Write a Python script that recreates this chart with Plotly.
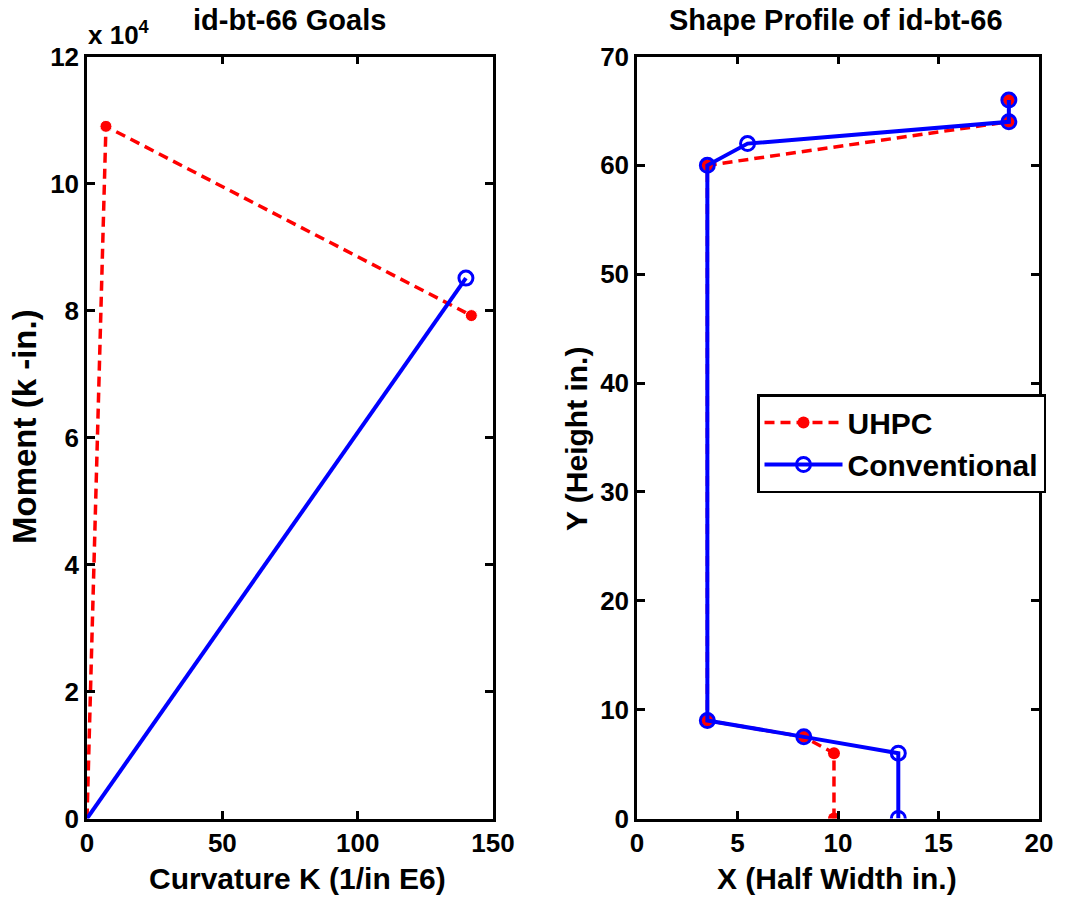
import plotly.graph_objects as go

# Moment-curvature goals (curvature in 1/in E6, moment in k-in.)
uhpc_curv = [0, 7, 142]
uhpc_moment = [0, 109000, 79200]
conv_curv = [0, 140]
conv_moment = [0, 85100]

# Half-width shape profiles (x = half width in., y = height in.)
uhpc_x = [9.8, 9.8, 8.3, 3.5, 3.5, 18.5, 18.5]
uhpc_y = [0, 6, 7.5, 9, 60, 64, 66]
conv_x = [13, 13, 8.3, 3.5, 3.5, 5.5, 18.5, 18.5]
conv_y = [0, 6, 7.5, 9, 60, 62, 64, 66]

moment_ticks = [0, 20000, 40000, 60000, 80000, 100000, 120000]
moment_ticktext = ["0", "2", "4", "6", "8", "10", "12"]

RED = "#ff0000"
BLUE = "#0000ff"
FONT = "Liberation Sans"

fig = go.Figure()

red_line = dict(color=RED, width=3.5, dash="10px,6px")
blue_line = dict(color=BLUE, width=4)
red_marker = dict(symbol="circle", color=RED, size=12, opacity=1)
blue_marker = dict(symbol="circle-open", color=BLUE, size=14, opacity=1,
                   line=dict(width=3, color=BLUE))

fig.add_trace(go.Scatter(x=uhpc_curv, y=uhpc_moment, mode="lines+markers",
                         line=red_line,
                         marker=dict(red_marker, size=[0, 12, 12]),
                         xaxis="x", yaxis="y", showlegend=False))
fig.add_trace(go.Scatter(x=conv_curv, y=conv_moment, mode="lines+markers",
                         line=blue_line,
                         marker=dict(blue_marker, size=[0, 14]),
                         xaxis="x", yaxis="y", showlegend=False))

fig.add_trace(go.Scatter(x=uhpc_x, y=uhpc_y, mode="lines+markers", name="UHPC",
                         line=red_line, marker=red_marker,
                         xaxis="x2", yaxis="y2"))
fig.add_trace(go.Scatter(x=conv_x, y=conv_y, mode="lines+markers", name="Conventional",
                         line=blue_line, marker=blue_marker,
                         xaxis="x2", yaxis="y2"))

axis_style = dict(
    showline=True, linecolor="black", linewidth=2.5, mirror="ticks",
    ticks="inside", ticklen=8, tickwidth=2.5, tickcolor="black",
    showgrid=False, zeroline=False,
    tickfont=dict(family=FONT, size=26, color="black", weight="bold"),
)

ydom = [1 - 818.5 / 903, 1 - 56.5 / 903]

fig.update_layout(
    width=1082, height=903,
    margin=dict(l=0, r=0, t=0, b=0, autoexpand=False),
    paper_bgcolor="white", plot_bgcolor="white",
    font=dict(family=FONT, color="black"),
    xaxis=dict(axis_style, domain=[87 / 1082, 493 / 1082], range=[0, 150],
               tickvals=[0, 50, 100, 150], anchor="y"),
    yaxis=dict(axis_style, domain=ydom, range=[0, 120000],
               tickvals=moment_ticks, ticktext=moment_ticktext, anchor="x"),
    xaxis2=dict(axis_style, domain=[637 / 1082, 1039 / 1082], range=[0, 20],
                tickvals=[0, 5, 10, 15, 20], anchor="y2"),
    yaxis2=dict(axis_style, domain=ydom, range=[0, 70],
                tickvals=[0, 10, 20, 30, 40, 50, 60, 70], anchor="x2"),
    legend=dict(x=757 / 1082, y=1 - 394 / 903, xanchor="left", yanchor="top",
                bordercolor="black", borderwidth=2.5, bgcolor="white",
                itemwidth=78, tracegroupgap=0,
                font=dict(family=FONT, size=30, color="black", weight="bold")),
    showlegend=True,
)

def bold(size):
    return dict(family=FONT, size=size, color="black", weight="bold")

notes = [
    dict(text="id-bt-66 Goals", x=289 / 1082, y=1 - 20 / 903, font=bold(29)),
    dict(text="Shape Profile of id-bt-66", x=836 / 1082, y=1 - 20 / 903, font=bold(29)),
    dict(text="Curvature K (1/in E6)", x=297 / 1082, y=1 - 878 / 903, font=bold(30)),
    dict(text="X (Half Width in.)", x=837 / 1082, y=1 - 878 / 903, font=bold(30)),
    dict(text="Moment (k -in.)", x=25 / 1082, y=1 - 427 / 903, textangle=-90,
         font=bold(33)),
    dict(text="Y (Height in.)", x=576 / 1082, y=1 - 439 / 903, textangle=-90,
         font=bold(30)),
]
for n in notes:
    fig.add_annotation(xref="paper", yref="paper", showarrow=False,
                       xanchor="center", yanchor="middle", **n)

# Exponent label for the moment axis
fig.add_annotation(xref="paper", yref="paper", x=86 / 1082, y=1 - 33 / 903,
                   xanchor="left", yanchor="middle", showarrow=False,
                   text="x 10<sup>4</sup>", font=bold(26))

fig.write_html("out.html")
